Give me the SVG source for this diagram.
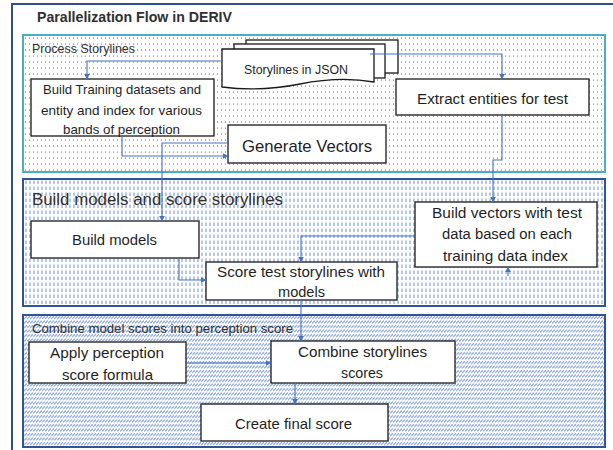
<svg xmlns="http://www.w3.org/2000/svg" width="613" height="450" viewBox="0 0 613 450">
<style>
.node{fill:#fff;stroke:#1a1a1a;stroke-width:1.3}
.t{font-family:"Liberation Sans",Arial,sans-serif;fill:#1f1f1f}
.hd{font-family:"Liberation Sans",Arial,sans-serif;fill:#303030}
.con{fill:none;stroke:#4472c4;stroke-width:1.1;marker-end:url(#ah)}
</style>
<defs>
<marker id="ah" viewBox="0 0 10 10" refX="9" refY="5" markerWidth="6" markerHeight="6" markerUnits="userSpaceOnUse" orient="auto">
<path d="M0,0 L10,5 L0,10 Z" fill="#4472c4"/>
</marker>
<pattern id="dots" width="4" height="6" patternUnits="userSpaceOnUse">
<rect width="4" height="6" fill="#fff"/>
<circle cx="1.5" cy="2" r="0.6" fill="#555"/>
</pattern>
<pattern id="vdash" width="4" height="6" patternUnits="userSpaceOnUse">
<rect width="4" height="6" fill="#fff"/>
<rect x="1.5" y="0.5" width="1" height="3.5" fill="#6f8fd0"/>
</pattern>
<pattern id="hatch" width="3" height="4.5" patternUnits="userSpaceOnUse">
<rect width="3" height="4.5" fill="#fff"/>
<line x1="0" y1="3.8" x2="3" y2="1.2" stroke="#7f9ed6" stroke-width="1.1"/>
</pattern>
</defs>

<g id="frame">
<rect x="12" y="4" width="620" height="470" fill="#fff" stroke="#2f4f8f" stroke-width="2"/>
<text class="hd" x="37" y="22" font-size="15" font-weight="bold" textLength="195" lengthAdjust="spacingAndGlyphs" fill="#404040">Parallelization Flow in DERIV</text>
</g>

<g id="panel-process">
<rect x="23" y="35" width="582" height="137" fill="url(#dots)" stroke="#4bacc6" stroke-width="2"/>
<text class="hd" x="32" y="53" font-size="12.5" textLength="103" lengthAdjust="spacingAndGlyphs">Process Storylines</text>
</g>
<g id="panel-build">
<rect x="23" y="179" width="582" height="127" fill="url(#vdash)" stroke="#2f5597" stroke-width="2"/>
<text class="hd" x="32" y="205" font-size="16" textLength="251" lengthAdjust="spacingAndGlyphs">Build models and score storylines</text>
</g>
<g id="panel-combine">
<rect x="23" y="315" width="582" height="132" fill="url(#hatch)" stroke="#2f5597" stroke-width="2"/>
<text class="hd" x="32" y="333" font-size="13.5" textLength="261" lengthAdjust="spacingAndGlyphs">Combine model scores into perception score</text>
</g>

<g id="storylines-json">
<rect class="node" x="246" y="40" width="152" height="33"/>
<rect class="node" x="234" y="44" width="151" height="34"/>
<path class="node" d="M222,49 H374 V82 Q340,76 300,84 T222,87 Z"/>
<text class="t" x="244" y="74" font-size="13" textLength="104" lengthAdjust="spacingAndGlyphs">Storylines in JSON</text>
</g>

<g id="build-training">
<rect class="node" x="31" y="79" width="183" height="57"/>
<text class="t" x="43" y="94" font-size="13" textLength="158" lengthAdjust="spacingAndGlyphs">Build Training datasets and</text>
<text class="t" x="41" y="115" font-size="13" textLength="161" lengthAdjust="spacingAndGlyphs">entity and index for various</text>
<text class="t" x="63" y="134" font-size="13" textLength="117" lengthAdjust="spacingAndGlyphs">bands of perception</text>
</g>

<g id="extract-entities">
<rect class="node" x="396" y="79" width="193" height="36"/>
<text class="t" x="417" y="104" font-size="14" textLength="151" lengthAdjust="spacingAndGlyphs">Extract entities for test</text>
</g>

<g id="generate-vectors">
<rect class="node" x="228" y="125" width="158" height="38"/>
<text class="t" x="242" y="152" font-size="17" textLength="130" lengthAdjust="spacingAndGlyphs">Generate Vectors</text>
</g>

<g id="build-models">
<rect class="node" x="31" y="221" width="168" height="37"/>
<text class="t" x="72" y="245" font-size="14" textLength="85" lengthAdjust="spacingAndGlyphs">Build models</text>
</g>

<g id="build-vectors-test">
<rect class="node" x="415" y="202" width="182" height="65"/>
<text class="t" x="432" y="218" font-size="14" textLength="150" lengthAdjust="spacingAndGlyphs">Build vectors with test</text>
<text class="t" x="442" y="239" font-size="14" textLength="130" lengthAdjust="spacingAndGlyphs">data based on each</text>
<text class="t" x="443" y="261" font-size="14" textLength="125" lengthAdjust="spacingAndGlyphs">training data index</text>
</g>

<g id="score-test">
<rect class="node" x="206" y="262" width="191" height="38"/>
<text class="t" x="217" y="277" font-size="14" textLength="168" lengthAdjust="spacingAndGlyphs">Score test storylines with</text>
<text class="t" x="278" y="297" font-size="14" textLength="47" lengthAdjust="spacingAndGlyphs">models</text>
</g>

<g id="apply-formula">
<rect class="node" x="29" y="342" width="157" height="41"/>
<text class="t" x="50" y="358" font-size="15" textLength="114" lengthAdjust="spacingAndGlyphs">Apply perception</text>
<text class="t" x="62" y="380" font-size="15" textLength="91" lengthAdjust="spacingAndGlyphs">score formula</text>
</g>

<g id="combine-storylines">
<rect class="node" x="271" y="341" width="184" height="42"/>
<text class="t" x="298" y="357" font-size="15" textLength="129" lengthAdjust="spacingAndGlyphs">Combine storylines</text>
<text class="t" x="341" y="378" font-size="15" textLength="42" lengthAdjust="spacingAndGlyphs">scores</text>
</g>

<g id="create-final">
<rect class="node" x="201" y="404" width="187" height="37"/>
<text class="t" x="235" y="429" font-size="15" textLength="117" lengthAdjust="spacingAndGlyphs">Create final score</text>
</g>

<g id="connectors">
<path class="con" d="M222,61 H87 V79"/>
<path class="con" d="M370,54 H502 V79"/>
<path class="con" d="M122,136 V156 H228"/>
<path class="con" d="M228,143 H162 V221"/>
<path class="con" d="M502,115 V160 H493 V202"/>
<path class="con" d="M415,236 H301 V262"/>
<path class="con" d="M179,258 V280 H206"/>
<path class="con" d="M301,300 V341"/>
<path class="con" d="M186,363 H271"/>
<path class="con" d="M295,383 V404"/>
<path class="con" d="M508,276 V267"/>
</g>
</svg>
